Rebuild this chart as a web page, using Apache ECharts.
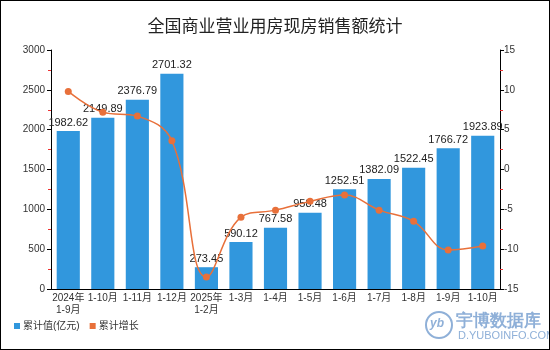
<!DOCTYPE html>
<html><head><meta charset="utf-8">
<script src="https://cdn.jsdelivr.net/npm/echarts@6/dist/echarts.min.js"></script>
<style>html,body{margin:0;padding:0;background:#fff}#c{width:550px;height:350px;box-sizing:border-box;border:1px solid #000}</style>
</head><body><div id="c"></div>
<script>
const categories = ['2024年\n1-9月','1-10月','1-11月','1-12月','2025年\n1-2月','1-3月','1-4月','1-5月','1-6月','1-7月','1-8月','1-9月','1-10月'];
const salesValues = [1982.62,2149.89,2376.79,2701.32,273.45,590.12,767.58,958.48,1252.51,1382.09,1522.45,1766.72,1923.89];
const growthValues = [9.8,7.2,6.7,3.6,-13.5,-6.0,-5.1,-4.0,-3.2,-5.1,-6.5,-10.1,-9.6];
const leftTicks = [0,3000,500];
const rightTicks = [-15,15,5];

const chart = echarts.init(document.getElementById('c'));
chart.setOption({
  animation:false,
  textStyle:{fontFamily:'Liberation Sans, Noto Sans CJK SC, sans-serif'},
  title:{text:'全国商业营业用房现房销售额统计',left:'center',top:13,textStyle:{fontSize:17,fontWeight:'normal',color:'#222'}},
  grid:{left:50,right:49,top:49,bottom:60},
  legend:{left:8,bottom:13,itemWidth:6,itemHeight:6,itemGap:10,icon:'rect',textStyle:{fontSize:10,color:'#333',padding:[0,0,0,-2]},
    data:['累计值(亿元)','累计增长']},
  xAxis:{type:'category',data:categories,
    axisLine:{lineStyle:{color:'#000'}},axisTick:{show:false},
    axisLabel:{color:'#333',fontSize:10,interval:0,lineHeight:12,margin:3}},
  yAxis:[
    {type:'value',min:leftTicks[0],max:leftTicks[1],interval:leftTicks[2],position:'left',
     axisLine:{show:true,lineStyle:{color:'#000'}},axisTick:{show:true,length:4,lineStyle:{color:'#000'}},
     minorTick:{show:true,splitNumber:2,length:3,lineStyle:{color:'#e33'}},
     splitLine:{show:false},axisLabel:{color:'#333',fontSize:10,margin:6,formatter:v=>String(v)}},
    {type:'value',min:rightTicks[0],max:rightTicks[1],interval:rightTicks[2],position:'right',
     axisLine:{show:true,lineStyle:{color:'#000'}},axisTick:{show:true,length:4,lineStyle:{color:'#000'}},
     minorTick:{show:true,splitNumber:2,length:3,lineStyle:{color:'#e33'}},
     splitLine:{show:false},axisLabel:{color:'#333',fontSize:10,margin:4}}
  ],
  series:[
    {name:'累计值(亿元)',type:'bar',data:salesValues,barWidth:'67%',
     itemStyle:{color:'#3197DD'},
     label:{show:true,position:'top',color:'#222',fontSize:11,distance:3}},
    {name:'累计增长',type:'line',yAxisIndex:1,data:growthValues,smooth:0.4,
     symbol:'circle',symbolSize:7,
     itemStyle:{color:'#E8703A'},lineStyle:{color:'#E8703A',width:1.5}}
  ],
  graphic:[
    {type:'text',x:455,y:312,style:{text:'宇博数据库',fontSize:17,fontWeight:'bold',fill:'#8FB0D8'}},
    {type:'text',x:457,y:329,style:{text:'D.YUBOINFO.COM',fontSize:11,fill:'#8FB0D8'}},
    {type:'circle',shape:{cx:438,cy:324,r:13},style:{fill:'none',stroke:'#8FB0D8',lineWidth:2}},
    {type:'text',x:429,y:317,style:{text:'yb',fontSize:12,fontStyle:'italic',fontWeight:'bold',fill:'#8FB0D8'}}
  ]
});
</script></body></html>
